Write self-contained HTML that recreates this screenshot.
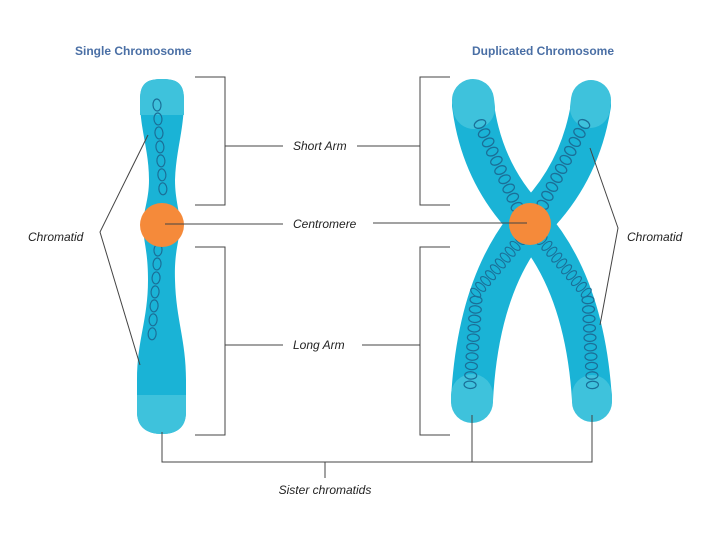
<!DOCTYPE html>
<html><head><meta charset="utf-8"><style>
html,body{margin:0;padding:0;background:#fff;}
svg{display:block;}
text{font-family:"Liberation Sans",sans-serif;}
</style></head><body>
<svg width="720" height="539" viewBox="0 0 720 539" xmlns="http://www.w3.org/2000/svg">
<defs>
<g id="coil10" fill="none" stroke="#1a6f98" stroke-width="1.2">
<ellipse cx="0" cy="0" rx="6" ry="3.5"/><ellipse cx="0" cy="9" rx="6" ry="3.5"/><ellipse cx="0" cy="18" rx="6" ry="3.5"/><ellipse cx="0" cy="27" rx="6" ry="3.5"/><ellipse cx="0" cy="36" rx="6" ry="3.5"/><ellipse cx="0" cy="45" rx="6" ry="3.5"/><ellipse cx="0" cy="54" rx="6" ry="3.5"/><ellipse cx="0" cy="63" rx="6" ry="3.5"/><ellipse cx="0" cy="72" rx="6" ry="3.5"/><ellipse cx="0" cy="81" rx="6" ry="3.5"/>
</g>
<g id="coil8s" fill="none" stroke="#1a6f98" stroke-width="1.2">
<ellipse cx="0" cy="0" rx="4" ry="6"/><ellipse cx="0" cy="14" rx="4" ry="6"/><ellipse cx="0" cy="28" rx="4" ry="6"/><ellipse cx="0" cy="42" rx="4" ry="6"/><ellipse cx="0" cy="56" rx="4" ry="6"/><ellipse cx="0" cy="70" rx="4" ry="6"/><ellipse cx="0" cy="84" rx="4" ry="6"/>
</g>
</defs>

<text x="75" y="55" font-size="12" font-weight="bold" fill="#4a6fa5">Single Chromosome</text>
<text x="472" y="55" font-size="12" font-weight="bold" fill="#4a6fa5">Duplicated Chromosome</text>

<!-- Single chromosome -->
<path d="M162,79 C178,79 184,84 184,100 C184,130 176,150 175,180 C175,200 180,212 180,225 C180,240 174,250 175,280 C176,320 186,340 186,380 L186,412 C186,428 176,434 162,434 C148,434 137,428 137,412 L137,380 C137,340 148,320 148,280 C148,250 143,240 143,225 C143,212 149,200 149,180 C149,150 140,130 140,100 C140,84 146,79 162,79 Z" fill="#1ab3d6"/>
<path d="M140,100 C140,84 146,79 162,79 C178,79 184,84 184,100 L184,115 L140,115 Z" fill="#3ec2dc"/>
<path d="M137,395 L186,395 L186,412 C186,428 176,434 162,434 C148,434 137,428 137,412 Z" fill="#3ec2dc"/>
<use href="#coil8s" transform="translate(157,105) rotate(-4)"/>
<use href="#coil8s" transform="translate(158,250) rotate(4)"/>
<circle cx="162" cy="225" r="22" fill="#f58a3a"/>

<!-- Duplicated chromosome -->
<g fill="none" stroke-linecap="round">
<path d="M473,105 Q482,175 530,223 Q478,285 472,400" stroke="#1ab3d6" stroke-width="42"/>
<path d="M591,105 Q580,175 530,223 Q585,285 592,400" stroke="#1ab3d6" stroke-width="40"/>
<path d="M473,100 L474,108" stroke="#3ec2dc" stroke-width="42"/>
<path d="M591,100 L590,108" stroke="#3ec2dc" stroke-width="40"/>
<path d="M472,395 L472,402" stroke="#3ec2dc" stroke-width="42"/>
<path d="M592,395 L592,402" stroke="#3ec2dc" stroke-width="40"/>
</g>
<use href="#coil10" transform="translate(480,124) rotate(-24) scale(1,1.12)"/>
<use href="#coil10" transform="translate(584,124) rotate(27) scale(1,1.12)"/>
<use href="#coil10" transform="translate(520,240) rotate(40) scale(1,0.85)"/>
<use href="#coil10" transform="translate(476,300) rotate(4) scale(1,1.05)"/>
<use href="#coil10" transform="translate(542,240) rotate(-40) scale(1,0.85)"/>
<use href="#coil10" transform="translate(588,300) rotate(-3) scale(1,1.05)"/>
<circle cx="530" cy="224" r="21" fill="#f58a3a"/>

<!-- connectors -->
<g fill="none" stroke="#444" stroke-width="1">
<path d="M195,77 H225 V205 H195"/>
<path d="M225,146 H283"/>
<path d="M195,247 H225 V435 H195"/>
<path d="M225,345 H283"/>
<path d="M165,224 H283"/>
<path d="M450,77 H420 V205 H450"/>
<path d="M357,146 H420"/>
<path d="M450,247 H420 V435 H450"/>
<path d="M362,345 H420"/>
<path d="M373,223 H527"/>
<path d="M148,135 L100,232 L140,365"/>
<path d="M590,148 L618,228 L600,325"/>
<path d="M162,432 V462 H592 V415"/>
<path d="M472,415 V462"/>
<path d="M325,462 V478"/>
</g>

<g font-size="12" font-style="italic" fill="#222">
<text x="293" y="150">Short Arm</text>
<text x="293" y="228">Centromere</text>
<text x="293" y="349">Long Arm</text>
<text x="28" y="241">Chromatid</text>
<text x="627" y="241">Chromatid</text>
<text x="325" y="494" text-anchor="middle">Sister chromatids</text>
</g>
</svg>
</body></html>
